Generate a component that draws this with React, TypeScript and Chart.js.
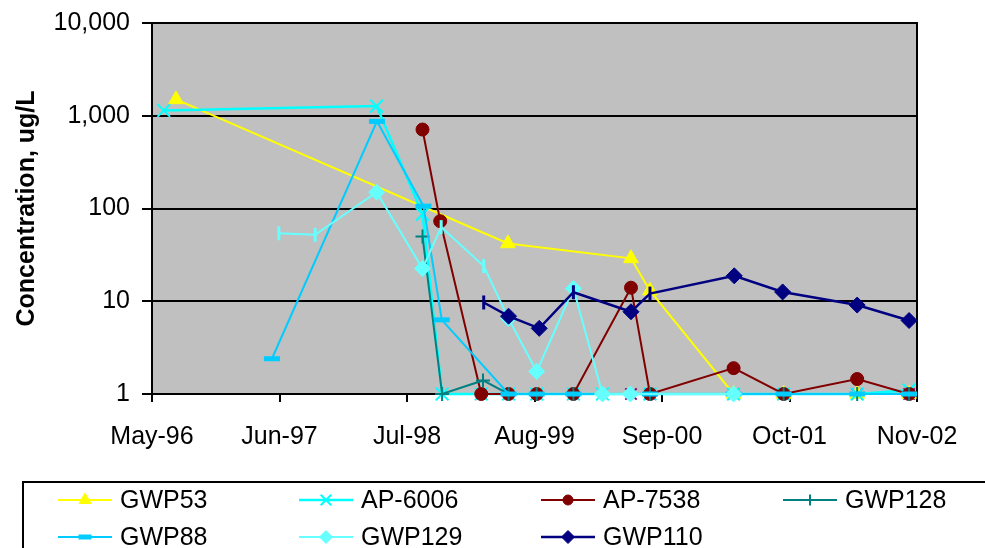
import React, { useEffect, useRef } from 'react';
import { Chart, registerables } from 'chart.js';
import { drawPoint } from 'chart.js/helpers';
Chart.register(...registerables);

// ---------- data ----------
const X_TICK_LABELS = ['May-96', 'Jun-97', 'Jul-98', 'Aug-99', 'Sep-00', 'Oct-01', 'Nov-02'];
const X_TICK_STEP_MONTHS = 13;
const Y_TICKS = [1, 10, 100, 1000, 10000];

const GWP53_DATES = ['1996-07-15', '1999-05-10', '2000-05-27', '2000-07-25', '2001-04-10', '2001-09-13', '2002-04-28', '2002-10-07'];
const GWP53_VALUES = [1500, 42, 29, 13, 1, 1, 1, 1];

const AP6006_DATES = ['1996-06-07', '1998-03-29', '1998-08-19', '1998-10-19', '1999-02-17', '1999-05-12', '1999-08-08', '1999-11-30', '2000-02-28', '2000-07-25', '2001-04-10', '2001-09-13', '2002-04-28', '2002-10-07'];
const AP6006_VALUES = [1140, 1270, 87, 1, 1, 1, 1, 1, 1, 1, 1, 1, 1, 1.1];

const AP7538_DATES = ['1998-08-19', '1998-10-13', '1999-02-17', '1999-05-12', '1999-08-08', '1999-11-30', '2000-05-27', '2000-07-25', '2001-04-10', '2001-09-13', '2002-04-28', '2002-10-07'];
const AP7538_VALUES = [710, 73, 1, 1, 1, 1, 14, 1, 1.9, 1, 1.45, 1];

const GWP128_DATES = ['1998-08-19', '1998-10-19', '1999-02-22', '1999-05-12', '1999-08-08', '1999-11-30', '2000-07-25', '2001-09-13', '2002-04-28', '2002-10-07'];
const GWP128_VALUES = [50, 1, 1.4, 1, 1, 1, 1, 1, 1, 1];

const GWP88_DATES = ['1997-05-08', '1998-03-30', '1998-08-22', '1998-10-18', '1999-05-12', '1999-08-08', '1999-11-30', '2000-07-25', '2001-04-10', '2001-09-13', '2002-04-28', '2002-10-07'];
const GWP88_VALUES = [2.4, 870, 106, 6.3, 1, 1, 1, 1, 1, 1, 1, 1];

const GWP129_DATES = ['1997-05-30', '1997-09-20', '1998-03-29', '1998-08-19', '1998-10-16', '1999-02-24', '1999-05-12', '1999-08-08', '1999-11-30', '2000-02-28', '2000-05-25', '2001-04-10'];
const GWP129_VALUES = [54, 52, 150, 22.5, 63, 24, 6.5, 1.75, 13.7, 1, 1, 1];
const GWP129_BAR_POINTS = [0, 1, 4, 5];

const GWP110_DATES = ['1999-02-24', '1999-05-12', '1999-08-16', '1999-11-30', '2000-05-27', '2000-07-25', '2001-04-12', '2001-09-10', '2002-04-28', '2002-10-07'];
const GWP110_VALUES = [9.7, 6.9, 5.1, 12.5, 7.7, 12.1, 18.8, 12.6, 9.1, 6.2];
const GWP110_BAR_POINTS = [0, 3, 5];

const EXTRA_DATES = ['2000-05-27', '2000-07-25', '2001-04-10', '2001-09-13', '2002-04-28', '2002-10-07'];
const EXTRA_VALUES = [1, 1, 1, 1, 1, 1];

// ---------- helpers ----------
function toMonths(s: string): number {
  const [y, m, d] = s.split('-').map(Number);
  const dim = new Date(y, m, 0).getDate();
  return (y - 1996) * 12 + (m - 5) + (d - 1) / dim;
}
function pts(dates: string[], values: number[]) {
  return dates.map((d, i) => ({ x: toMonths(d), y: values[i] }));
}

const FONT = "'Liberation Sans', Arial, Helvetica, sans-serif";

type SeriesDef = {
  label: string;
  dates: string[];
  values: number[];
  color: string;
  fill: string;
  style: string;
  radius: number;
  markerWidth: number;
  lineWidth: number;
  bars?: number[];
  legend: boolean;
  layer: number;
};

const SERIES: SeriesDef[] = [
  { label: 'GWP53', dates: GWP53_DATES, values: GWP53_VALUES, color: '#FFFF00', fill: '#FFFF00', style: 'triangle', radius: 8.5, markerWidth: 1, lineWidth: 2, legend: true, layer: 18 },
  { label: 'AP-6006', dates: AP6006_DATES, values: AP6006_VALUES, color: '#00FFFF', fill: '#00FFFF', style: 'crossRot', radius: 9, markerWidth: 2, lineWidth: 2.5, legend: true, layer: 17 },
  { label: 'AP-7538', dates: AP7538_DATES, values: AP7538_VALUES, color: '#800000', fill: '#800000', style: 'circle', radius: 6.5, markerWidth: 1, lineWidth: 2, legend: true, layer: 16 },
  { label: 'GWP128', dates: GWP128_DATES, values: GWP128_VALUES, color: '#008080', fill: '#008080', style: 'cross', radius: 7, markerWidth: 2, lineWidth: 2, legend: true, layer: 15 },
  { label: 'GWP88', dates: GWP88_DATES, values: GWP88_VALUES, color: '#00CCFF', fill: '#00CCFF', style: 'line', radius: 8, markerWidth: 5, lineWidth: 2, legend: true, layer: 14 },
  { label: 'GWP129', dates: GWP129_DATES, values: GWP129_VALUES, color: '#66FFFF', fill: '#66FFFF', style: 'rectRot', radius: 8, markerWidth: 1, lineWidth: 2, bars: GWP129_BAR_POINTS, legend: true, layer: 13 },
  { label: 'GWP110', dates: GWP110_DATES, values: GWP110_VALUES, color: '#000080', fill: '#000080', style: 'rectRot', radius: 8, markerWidth: 1, lineWidth: 2.5, bars: GWP110_BAR_POINTS, legend: true, layer: 12 },
  { label: '', dates: EXTRA_DATES, values: EXTRA_VALUES, color: '#800080', fill: '#800080', style: 'crossRot', radius: 8, markerWidth: 2, lineWidth: 0, legend: false, layer: 30 },
];

const LEGEND_COLS = [58, 299, 541, 783];
const LEGEND_ROWS = [500, 537];

export default function App() {
  const ref = useRef<HTMLCanvasElement | null>(null);
  useEffect(() => {
    if (!ref.current) return;
    const datasets = SERIES.map((s) => {
      const bars = s.bars || [];
      return {
        label: s.label,
        data: pts(s.dates, s.values),
        borderColor: s.color,
        backgroundColor: s.fill,
        borderWidth: s.lineWidth,
        showLine: s.lineWidth > 0,
        pointStyle: (c: any) => (bars.includes(c.dataIndex) ? 'line' : s.style),
        pointRotation: (c: any) => (bars.includes(c.dataIndex) ? 90 : 0),
        pointRadius: (c: any) => (bars.includes(c.dataIndex) ? 7 : s.radius),
        pointBorderWidth: (c: any) => (bars.includes(c.dataIndex) ? 3 : s.markerWidth),
        pointBorderColor: s.color,
        pointBackgroundColor: s.fill,
        pointHoverRadius: s.radius,
        tension: 0,
        clip: false as any,
        order: s.layer,
      };
    });

    const bgPlugin = {
      id: 'bg',
      beforeDraw(chart: any) {
        const { ctx, chartArea: a } = chart;
        ctx.save();
        ctx.fillStyle = '#C0C0C0';
        ctx.fillRect(a.left, a.top, a.right - a.left, a.bottom - a.top);
        ctx.restore();
      },
      beforeDatasetsDraw(chart: any) {
        const { ctx, chartArea: a } = chart;
        ctx.save();
        ctx.strokeStyle = '#000';
        ctx.lineWidth = 2;
        ctx.beginPath();
        ctx.moveTo(a.right, a.top - 1);
        ctx.lineTo(a.right, a.bottom + 1);
        ctx.stroke();
        ctx.restore();
      },
      afterDraw(chart: any) {
        const { ctx } = chart;
        ctx.save();
        ctx.strokeStyle = '#000';
        ctx.lineWidth = 2;
        ctx.strokeRect(23, 482, 1000, 100);
        ctx.font = `25px ${FONT}`;
        ctx.textBaseline = 'middle';
        ctx.textAlign = 'left';
        const items = SERIES.filter((s) => s.legend);
        items.forEach((s, i) => {
          const x0 = LEGEND_COLS[i % 4];
          const y = LEGEND_ROWS[Math.floor(i / 4)];
          ctx.strokeStyle = s.color;
          ctx.lineWidth = s.lineWidth;
          ctx.beginPath();
          ctx.moveTo(x0, y);
          ctx.lineTo(x0 + 54, y);
          ctx.stroke();
          ctx.strokeStyle = s.color;
          ctx.fillStyle = s.fill;
          ctx.lineWidth = s.markerWidth;
          drawPoint(ctx, { pointStyle: s.style as any, rotation: 0, radius: s.radius - 1.5, borderWidth: s.markerWidth }, x0 + 27, y);
          ctx.fillStyle = '#000';
          ctx.fillText(s.label, x0 + 62, y + 1);
        });
        ctx.restore();
      },
    };

    const chart = new Chart(ref.current, {
      type: 'line',
      data: { datasets: datasets as any },
      plugins: [bgPlugin],
      options: {
        animation: false,
        responsive: false,
        maintainAspectRatio: false,
        layout: { padding: { left: 0, right: 68, top: 23, bottom: 84 } },
        plugins: { legend: { display: false }, tooltip: { enabled: false } },
        scales: {
          x: {
            type: 'linear',
            min: 0,
            max: X_TICK_STEP_MONTHS * (X_TICK_LABELS.length - 1),
            afterBuildTicks: (scale: any) => {
              scale.ticks = X_TICK_LABELS.map((_, i) => ({ value: i * X_TICK_STEP_MONTHS }));
            },
            afterFit: (scale: any) => {
              scale.height = 70;
              scale.paddingLeft = 0;
              scale.paddingRight = 0;
              scale.paddingTop = 0;
              scale.paddingBottom = 0;
            },
            ticks: {
              autoSkip: false,
              maxRotation: 0,
              padding: 20,
              color: '#000',
              font: { family: FONT, size: 25 },
              callback: (v: any) => X_TICK_LABELS[Math.round(Number(v) / X_TICK_STEP_MONTHS)] ?? '',
            },
            grid: { drawOnChartArea: false, color: '#000', lineWidth: 2, tickLength: 8 },
            border: { color: '#000', width: 2 },
          },
          y: {
            type: 'logarithmic',
            min: 1,
            max: 10000,
            afterBuildTicks: (scale: any) => {
              scale.ticks = Y_TICKS.map((v) => ({ value: v }));
            },
            afterFit: (scale: any) => {
              scale.width = 152;
              scale.paddingLeft = 0;
              scale.paddingRight = 0;
              scale.paddingTop = 0;
              scale.paddingBottom = 0;
            },
            ticks: {
              padding: 12,
              color: '#000',
              font: { family: FONT, size: 25 },
              callback: (v: any) => Number(v).toLocaleString('en-US'),
            },
            grid: { color: '#000', lineWidth: 2, tickLength: 10 },
            border: { color: '#000', width: 2 },
            title: {
              display: true,
              text: 'Concentration, ug/L',
              color: '#000',
              font: { family: FONT, size: 25, weight: 'bold' },
              padding: { top: 12, bottom: 0 },
            },
          },
        },
      },
    });
    return () => chart.destroy();
  }, []);

  return (
    <div style={{ position: 'absolute', left: 0, top: 0, width: 985, height: 548, background: '#fff' }}>
      <canvas ref={ref} width={985} height={548} style={{ display: 'block', width: 985, height: 548 }} />
    </div>
  );
}
